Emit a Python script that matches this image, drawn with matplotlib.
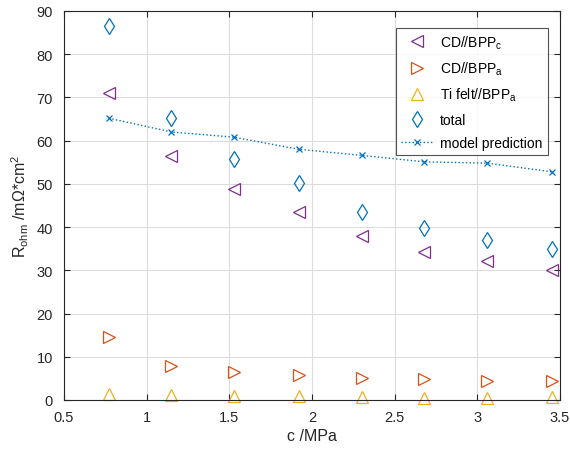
import numpy as np
import matplotlib.pyplot as plt

plt.rcParams['font.family'] = ['Liberation Sans', 'DejaVu Sans']
plt.rcParams['mathtext.fontset'] = 'custom'
plt.rcParams['mathtext.rm'] = 'Liberation Sans'
plt.rcParams['mathtext.it'] = 'Liberation Sans'

c = [0.77, 1.15, 1.53, 1.92, 2.30, 2.68, 3.06, 3.45]
cd_bppc = [71.0, 56.5, 48.8, 43.5, 38.0, 34.2, 32.2, 30.1]
cd_bppa = [14.5, 7.8, 6.4, 5.8, 5.1, 4.9, 4.5, 4.3]
ti_bppa = [1.4, 1.1, 0.9, 0.9, 0.6, 0.5, 0.5, 0.6]
total = [86.5, 65.3, 55.8, 50.2, 43.6, 39.7, 37.1, 34.9]
model = [65.2, 62.0, 60.8, 58.0, 56.6, 55.1, 54.8, 52.8]

fig = plt.figure(figsize=(5.7, 4.52), dpi=100)
ax = fig.add_axes([64 / 570, 51 / 452, 496 / 570, 389 / 452])

ms = 8
ax.plot(c, cd_bppc, ls='none', marker='<', mfc='none', mec='#7E2F8E', ms=ms, mew=0.9,
        clip_on=False, label=r'CD//BPP$_\mathrm{c}$')
ax.plot(c, cd_bppa, ls='none', marker='>', mfc='none', mec='#D95319', ms=ms, mew=0.9,
        clip_on=False, label=r'CD//BPP$_\mathrm{a}$')
ax.plot(c, ti_bppa, ls='none', marker='^', mfc='none', mec='#EDB120', ms=ms, mew=0.9,
        clip_on=False, label=r'Ti felt//BPP$_\mathrm{a}$')
ax.plot(c, total, ls='none', marker='d', mfc='none', mec='#0072BD', ms=8.5, mew=0.9,
        clip_on=False, label='total')
ax.plot(c, model, ls=':', color='#0072BD', marker='x', ms=5, mew=0.9, lw=1, label='model prediction')

ax.set_xlim(0.5, 3.5)
ax.set_ylim(0, 90)
ax.set_xticks([0.5, 1, 1.5, 2, 2.5, 3, 3.5])
ax.set_xticklabels(['0.5', '1', '1.5', '2', '2.5', '3', '3.5'])
ax.set_yticks(np.arange(0, 91, 10))
ax.grid(True, color='#dcdcdc', lw=0.8)
ax.set_axisbelow(True)
ax.tick_params(direction='in', top=True, right=True, labelsize=10.5, colors='#262626', length=4)
ax.tick_params(axis='x', pad=7)
ax.tick_params(axis='y', pad=8)
for s in ax.spines.values():
    s.set_color('#262626')
    s.set_linewidth(0.8)

ax.set_xlabel('c /MPa', fontsize=11.5, color='#262626', labelpad=3)
ax.set_ylabel(r'R$_\mathrm{ohm}$ /m$\Omega$*cm$^2$', fontsize=11.5, color='#262626', labelpad=4)

leg = ax.legend(loc='upper right', bbox_to_anchor=(0.99, 0.975), fontsize=10, frameon=True,
                fancybox=False, edgecolor='#262626', handlelength=2.2, handletextpad=0.6,
                borderpad=0.4, labelspacing=0.65)
leg.get_frame().set_linewidth(0.8)

fig.savefig('out.png', dpi=100)
